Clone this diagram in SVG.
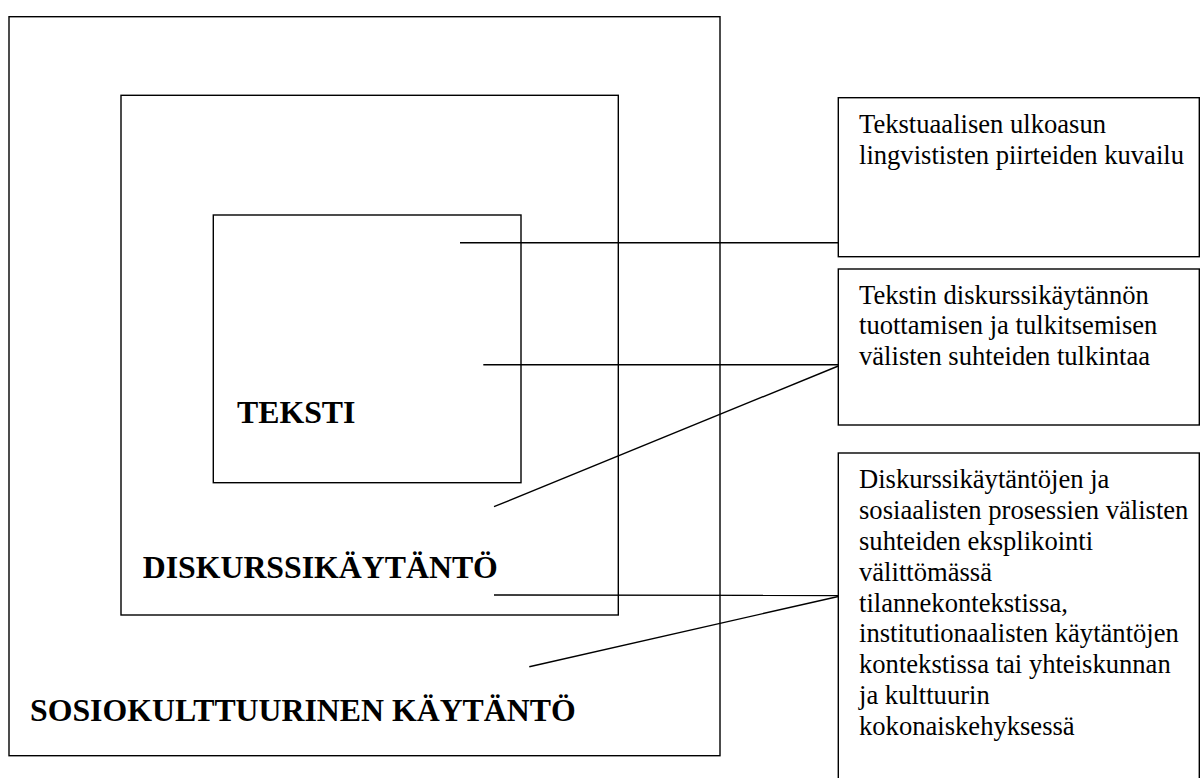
<svg xmlns="http://www.w3.org/2000/svg" width="1201" height="778" viewBox="0 0 1201 778">
<style>
.box{fill:none;stroke:#000;stroke-width:1.4}
.ln{stroke:#000;stroke-width:1.4;fill:none}
.h{font-family:"Liberation Serif","Times New Roman",serif;font-weight:bold;font-size:31.8px;fill:#000}
.t{font-family:"Liberation Serif","Times New Roman",serif;font-size:26.6px;fill:#000}
</style>
<rect width="1201" height="778" fill="#fff"/>
<g id="sosiokulttuurinen">
<rect class="box" x="9" y="16.7" width="711" height="739"/>
<text class="h" x="30" y="720.5">SOSIOKULTTUURINEN KÄYTÄNTÖ</text>
</g>
<g id="diskurssikaytanto">
<rect class="box" x="121" y="95.3" width="497.3" height="519.7"/>
<text class="h" x="142.7" y="578">DISKURSSIKÄYTÄNTÖ</text>
</g>
<g id="teksti">
<rect class="box" x="213.3" y="215" width="307.7" height="267.7"/>
<text class="h" x="237" y="422.7">TEKSTI</text>
</g>
<g id="kuvailu">
<rect class="box" x="838.3" y="97.7" width="361" height="159"/>
<text class="t" x="859" y="133"><tspan x="859">Tekstuaalisen ulkoasun</tspan><tspan x="859" dy="30.8">lingvististen piirteiden kuvailu</tspan></text>
</g>
<g id="tulkinta">
<rect class="box" x="838.3" y="269" width="361" height="156"/>
<text class="t" x="859" y="303.5"><tspan x="859">Tekstin diskurssikäytännön</tspan><tspan x="859" dy="30.8">tuottamisen ja tulkitsemisen</tspan><tspan x="859" dy="30.8">välisten suhteiden tulkintaa</tspan></text>
</g>
<g id="eksplikointi">
<rect class="box" x="838.3" y="453" width="361" height="360"/>
<text class="t" x="859" y="488.3"><tspan x="859">Diskurssikäytäntöjen ja</tspan><tspan x="859" dy="30.8">sosiaalisten prosessien välisten</tspan><tspan x="859" dy="30.8">suhteiden eksplikointi</tspan><tspan x="859" dy="30.8">välittömässä</tspan><tspan x="859" dy="30.8">tilannekontekstissa,</tspan><tspan x="859" dy="30.8">institutionaalisten käytäntöjen</tspan><tspan x="859" dy="30.8">kontekstissa tai yhteiskunnan</tspan><tspan x="859" dy="30.8">ja kulttuurin</tspan><tspan x="859" dy="30.8">kokonaiskehyksessä</tspan></text>
</g>
<g id="connectors">
<line class="ln" x1="460" y1="242.7" x2="838.3" y2="242.7"/>
<line class="ln" x1="483.3" y1="364.7" x2="838.3" y2="364.7"/>
<line class="ln" x1="494" y1="506.7" x2="838.3" y2="366"/>
<line class="ln" x1="494" y1="595" x2="838.3" y2="595.5"/>
<line class="ln" x1="529.3" y1="666.7" x2="838.3" y2="596.5"/>
</g>
</svg>
